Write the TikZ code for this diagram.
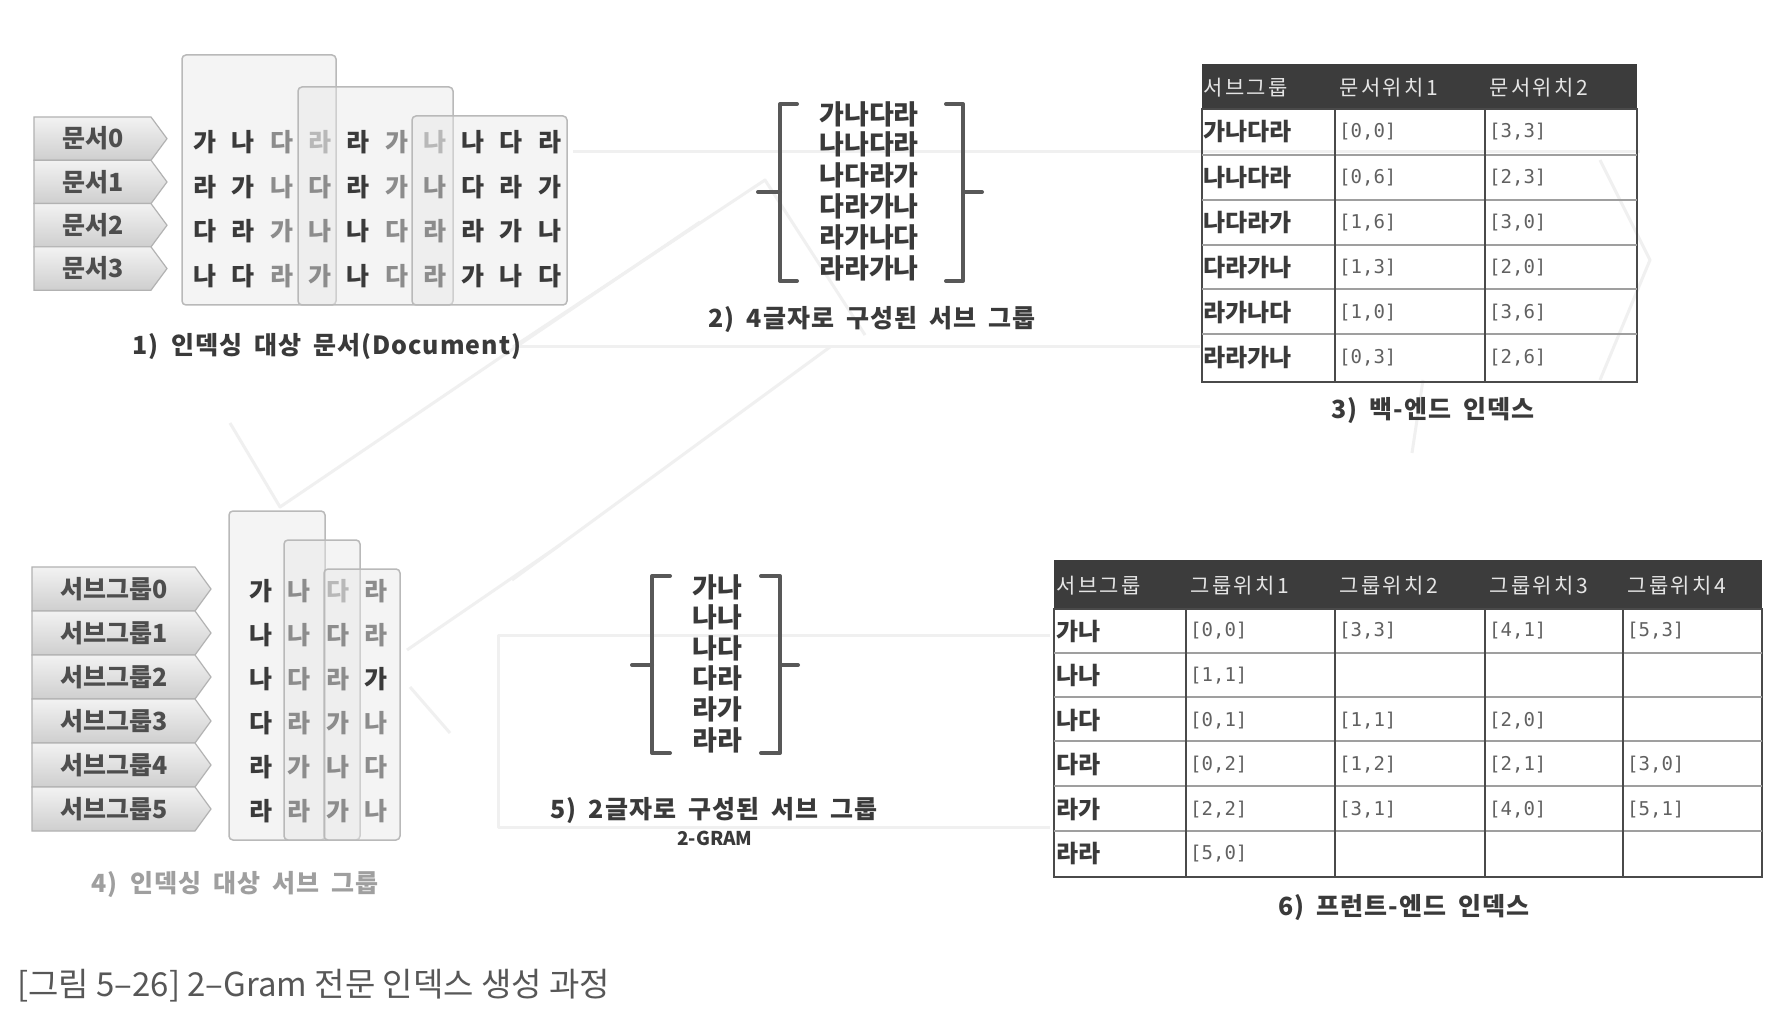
\documentclass[tikz,border=0pt]{standalone}
\usepackage{fontspec}
\setmainfont{Noto Sans CJK KR}
\newfontfamily\monofont{DejaVu Sans Mono}
\newfontfamily\capfont{Noto Sans CJK KR}[LetterSpace=4,WordSpace=1.8]
\newfontfamily\hdrfont{Noto Sans CJK KR}[LetterSpace=12]
\definecolor{ink}{HTML}{3A3A3A}
\definecolor{midink}{HTML}{8C8C8C}
\definecolor{lightink}{HTML}{B8B8B8}
\definecolor{hdrfill}{HTML}{3C3C3C}
\definecolor{gridc}{HTML}{4A4A4A}
\definecolor{faint}{HTML}{F0F0F0}
\begin{document}
\begin{tikzpicture}[x=1pt,y=-1pt,
  tagshape/.style={draw=gray!60,line width=1.2pt,top color=gray!10,bottom color=gray!38},
  tagtext/.style={font=\fontsize{25}{25}\selectfont\bfseries,text=ink!90,inner sep=0pt},
  panelbox/.style={draw=gray!55,line width=1.5pt,rounded corners=4pt,fill=gray!18,fill opacity=0.45},
  chA/.style={font=\fontsize{25}{25}\selectfont\bfseries,text=ink,inner sep=0pt},
  chB/.style={chA,text=midink},
  chC/.style={chA,text=lightink},
  brk/.style={draw=ink!85,line width=4pt,line cap=round,line join=round},
  brktext/.style={font=\fontsize{27}{27}\selectfont\bfseries,text=ink,inner sep=0pt},
  captxt/.style={font=\capfont\fontsize{25}{25}\selectfont\bfseries,text=ink,inner sep=0pt},
  hdrtext/.style={font=\hdrfont\fontsize{21}{21}\selectfont,text=white!90!black,anchor=west,inner sep=0pt},
  lbltext/.style={font=\fontsize{24}{24}\selectfont\bfseries,text=ink,anchor=west,inner sep=0pt},
  valtext/.style={font=\monofont\fontsize{19}{19}\selectfont,text=ink!80,anchor=west,inner sep=0pt},
  gridline/.style={draw=gridc,line width=2pt},
  bgarrow/.style={draw=faint,line width=3pt,line join=round}
]
\useasboundingbox (0,0) rectangle (1786,1016);
\fill[white] (0,0) rectangle (1786,1016);

% ---------- faint background arrows ----------
\draw[bgarrow] (513,347) -- (765,180) -- (865,335);
\draw[bgarrow] (573,152) -- (1640,152);
\draw[bgarrow] (513,347) -- (1200,347);
\draw[bgarrow] (1600,160) -- (1650,260) -- (1600,380);
\draw[bgarrow] (230,423) -- (280,507) -- (560,317) -- (700,222);
\draw[bgarrow] (512,580) -- (830,347);
\draw[bgarrow] (1423,380) -- (1412,453);
\draw[bgarrow] (1050,635) -- (498,635) -- (498,827) -- (1050,827);
\draw[bgarrow] (407,650) -- (560,545);
\draw[bgarrow] (410,687) -- (450,733);

% ---------- 1) documents ----------
\foreach \lab [count=\i from 0] in {문서0,문서1,문서2,문서3}{
  \pgfmathsetmacro{\yt}{117+43.3*\i}
  \pgfmathsetmacro{\yb}{\yt+43.3}
  \pgfmathsetmacro{\ym}{\yt+21.65}
  \path[tagshape] (34,\yt) -- (151,\yt) -- (167,\ym) -- (151,\yb) -- (34,\yb) -- cycle;
  \node[tagtext] (doc\i) at (93,\ym) {\lab};
}
\path[panelbox] (182,55) rectangle (336,305);
\path[panelbox] (298,87) rectangle (453,305);
\path[panelbox] (412,116) rectangle (567,305);

\foreach \ch/\s [count=\k from 0] in {가/A,나/A,다/B,라/C,라/A,가/B,나/C,나/A,다/A,라/A}
  \node[ch\s] (pa\k) at ({205+38.3*\k},142) {\ch};
\foreach \ch/\s [count=\k from 0] in {라/A,가/A,나/B,다/B,라/A,가/B,나/B,다/A,라/A,가/A}
  \node[ch\s] (pb\k) at ({205+38.3*\k},187) {\ch};
\foreach \ch/\s [count=\k from 0] in {다/A,라/A,가/B,나/B,나/A,다/B,라/B,라/A,가/A,나/A}
  \node[ch\s] (pc\k) at ({205+38.3*\k},231) {\ch};
\foreach \ch/\s [count=\k from 0] in {나/A,다/A,라/B,가/B,나/A,다/B,라/B,가/A,나/A,다/A}
  \node[ch\s] (pd\k) at ({205+38.3*\k},276) {\ch};

\node[captxt] (cap1) at (327,346) {1) 인덱싱 대상 문서(Document)};

% ---------- 2) 4-char subgroups ----------
\coordinate (b2lt) at (797,104);
\coordinate (b2lb) at (797,281);
\coordinate (b2rt) at (946,104);
\coordinate (b2rb) at (946,281);
\draw[brk] (b2lt) -- (780,104) -- (780,281) -- (b2lb);
\draw[brk] (758,192) -- (780,192);
\draw[brk] (b2rt) -- (963,104) -- (963,281) -- (b2rb);
\draw[brk] (963,192) -- (982,192);
\foreach \t [count=\k from 0] in {가나다라,나나다라,나다라가,다라가나,라가나다,라라가나}
  \node[brktext] (s4\k) at (869,{114+30.8*\k}) {\t};
\node[captxt] (cap2) at (872,319) {2) 4글자로 구성된 서브 그룹};

% ---------- 3) back-end index ----------
\fill[hdrfill] (1202,64) rectangle (1637,109);
\draw[gridline] (1202,109) rectangle (1637,382);
\foreach \yy in {155,200,245,289,334} \draw[gridline,draw=gray!75] (1202,\yy) -- (1637,\yy);
\draw[gridline] (1335,109) -- (1335,382);
\draw[gridline] (1485,109) -- (1485,382);
\node[hdrtext] (h3a) at (1203,88) {서브그룹};
\node[hdrtext] (h3b) at (1339,88) {문서위치1};
\node[hdrtext] (h3c) at (1489,88) {문서위치2};
\foreach \lab/\va/\vb [count=\k from 0] in {가나다라/{[0,0]}/{[3,3]},나나다라/{[0,6]}/{[2,3]},나다라가/{[1,6]}/{[3,0]},다라가나/{[1,3]}/{[2,0]},라가나다/{[1,0]}/{[3,6]},라라가나/{[0,3]}/{[2,6]}}{
  \pgfmathsetmacro{\yc}{132+45.2*\k}
  \node[lbltext] (t3l\k) at (1203,\yc) {\lab};
  \node[valtext] (t3a\k) at (1339,\yc) {\va};
  \node[valtext] (t3b\k) at (1489,\yc) {\vb};
}
\node[captxt] (cap3) at (1433,411) {3) 백-엔드 인덱스};

% ---------- 4) subgroups ----------
\foreach \lab [count=\i from 0] in {서브그룹0,서브그룹1,서브그룹2,서브그룹3,서브그룹4,서브그룹5}{
  \pgfmathsetmacro{\yt}{567+44*\i}
  \pgfmathsetmacro{\yb}{\yt+44}
  \pgfmathsetmacro{\ym}{\yt+22}
  \path[tagshape] (32,\yt) -- (195,\yt) -- (211,\ym) -- (195,\yb) -- (32,\yb) -- cycle;
  \node[tagtext] (sg\i) at (114,\ym) {\lab};
}
\path[panelbox] (229,511) rectangle (325,840);
\path[panelbox] (284,540) rectangle (360,840);
\path[panelbox] (324,569) rectangle (400,840);
\foreach \a/\sa/\b/\sb/\c/\sc/\d/\sd [count=\r from 0] in
  {가/A/나/B/다/C/라/B, 나/A/나/B/다/B/라/B, 나/A/다/B/라/B/가/A, 다/A/라/B/가/B/나/B, 라/A/가/B/나/B/다/B, 라/A/라/B/가/B/나/B}{
  \pgfmathsetmacro{\yc}{591+44*\r}
  \node[ch\sa] (q\r a) at (261,\yc) {\a};
  \node[ch\sb] (q\r b) at (299,\yc) {\b};
  \node[ch\sc] (q\r c) at (338,\yc) {\c};
  \node[ch\sd] (q\r d) at (376,\yc) {\d};
}
\node[captxt,text=gray!75] (cap4) at (235,884) {4) 인덱싱 대상 서브 그룹};

% ---------- 5) 2-char subgroups ----------
\coordinate (b5lt) at (670,576);
\coordinate (b5lb) at (670,753);
\coordinate (b5rt) at (761,576);
\coordinate (b5rb) at (761,753);
\draw[brk] (b5lt) -- (652,576) -- (652,753) -- (b5lb);
\draw[brk] (632,665) -- (652,665);
\draw[brk] (b5rt) -- (780,576) -- (780,753) -- (b5rb);
\draw[brk] (780,665) -- (798,665);
\foreach \t [count=\k from 0] in {가나,나나,나다,다라,라가,라라}
  \node[brktext] (s2\k) at (717,{587+30.6*\k}) {\t};
\node[captxt] (cap5) at (714,810) {5) 2글자로 구성된 서브 그룹};
\node[captxt,font=\fontsize{19}{19}\selectfont\bfseries] (gram) at (715,838) {2-GRAM};

% ---------- 6) front-end index ----------
\fill[hdrfill] (1054,560) rectangle (1762,609);
\draw[gridline] (1054,609) rectangle (1762,877);
\foreach \yy in {653,697,741,786,831} \draw[gridline,draw=gray!75] (1054,\yy) -- (1762,\yy);
\foreach \xx in {1186,1335,1485,1623} \draw[gridline] (\xx,609) -- (\xx,877);
\node[hdrtext] (h6a) at (1056,586) {서브그룹};
\node[hdrtext] (h6b) at (1190,586) {그룹위치1};
\node[hdrtext] (h6c) at (1339,586) {그룹위치2};
\node[hdrtext] (h6d) at (1489,586) {그룹위치3};
\node[hdrtext] (h6e) at (1627,586) {그룹위치4};
\foreach \lab/\va/\vb/\vc/\vd [count=\k from 0] in {가나/{[0,0]}/{[3,3]}/{[4,1]}/{[5,3]},나나/{[1,1]}/{}/{}/{},나다/{[0,1]}/{[1,1]}/{[2,0]}/{},다라/{[0,2]}/{[1,2]}/{[2,1]}/{[3,0]},라가/{[2,2]}/{[3,1]}/{[4,0]}/{[5,1]},라라/{[5,0]}/{}/{}/{}}{
  \pgfmathsetmacro{\yc}{631+44.6*\k}
  \node[lbltext] (t6l\k) at (1056,\yc) {\lab};
  \node[valtext] (t6a\k) at (1190,\yc) {\va};
  \node[valtext] (t6b\k) at (1339,\yc) {\vb};
  \node[valtext] (t6c\k) at (1489,\yc) {\vc};
  \node[valtext] (t6d\k) at (1627,\yc) {\vd};
}
\node[captxt] (cap6) at (1404,908) {6) 프런트-엔드 인덱스};

% ---------- figure caption ----------
\node[anchor=west,inner sep=0pt,font=\fontsize{33}{33}\selectfont,text=ink!85] (figcap) at (17,986) {[그림 5–26] 2–Gram 전문 인덱스 생성 과정};
\end{tikzpicture}
\end{document}
